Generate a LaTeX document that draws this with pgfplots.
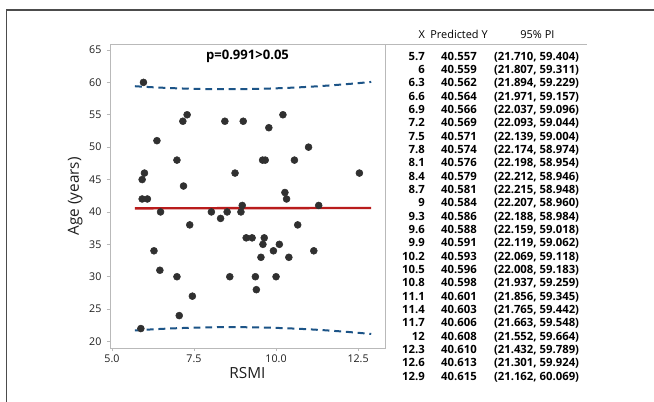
\documentclass[border=0pt]{standalone}
\usepackage{fontspec}
\setmainfont{Open Sans}
\usepackage{pgfplots}
\usepackage{pgfplotstable}
\pgfplotsset{compat=1.18}
\definecolor{fitred}{RGB}{185,28,28}
\definecolor{piblue}{RGB}{28,84,135}
\definecolor{dotgray}{RGB}{48,48,48}
\definecolor{boxgray}{RGB}{185,185,185}
\definecolor{txt}{RGB}{30,30,30}

\pgfplotstableread{
x yhat lo hi
5.7 40.557 21.710 59.404
6 40.559 21.807 59.311
6.3 40.562 21.894 59.229
6.6 40.564 21.971 59.157
6.9 40.566 22.037 59.096
7.2 40.569 22.093 59.044
7.5 40.571 22.139 59.004
7.8 40.574 22.174 58.974
8.1 40.576 22.198 58.954
8.4 40.579 22.212 58.946
8.7 40.581 22.215 58.948
9 40.584 22.207 58.960
9.3 40.586 22.188 58.984
9.6 40.588 22.159 59.018
9.9 40.591 22.119 59.062
10.2 40.593 22.069 59.118
10.5 40.596 22.008 59.183
10.8 40.598 21.937 59.259
11.1 40.601 21.856 59.345
11.4 40.603 21.765 59.442
11.7 40.606 21.663 59.548
12 40.608 21.552 59.664
12.3 40.610 21.432 59.789
12.6 40.613 21.301 59.924
12.9 40.615 21.162 60.069
}\fittable

\pgfplotstableread{
x y
5.96 60
5.92 45
5.99 46
5.92 42
6.08 42
5.88 22
6.28 34
6.37 51
6.48 40
6.46 31
6.98 48
6.98 30
7.05 24
7.16 54
7.18 44
7.29 55
7.37 38
7.45 27
8.03 40
8.31 39
8.44 54
8.51 40
8.59 30
8.75 46
8.93 40
8.97 41
9.00 54
9.09 36
9.27 36
9.37 30
9.40 28
9.54 33
9.60 35
9.59 48
9.67 48
9.64 36
9.78 53
9.92 34
10.00 30
10.10 35
10.21 55
10.27 43
10.32 42
10.39 33
10.56 48
10.66 38
10.99 50
11.15 34
11.30 41
12.54 46
}\pointtable

\begin{document}
\begin{tikzpicture}[font=\color{txt}]
\useasboundingbox (0,0) rectangle (490.5pt,301.5pt);
\fill[white] (0,0) rectangle (490.5pt,301.5pt);
% outer frame (top and left)
\draw[color=black!70, line width=0.8pt] (5pt,0) -- (5pt,294pt) -- (490.5pt,294pt);
% line continuing the top of the data region
\draw[color=boxgray, line width=0.6pt] (288.75pt,267.98pt) -- (440.25pt,267.98pt);

\begin{axis}[
  at={(82.5pt,40.5pt)}, anchor=south west,
  scale only axis, width=206.25pt, height=227.5pt,
  xmin=4.94, xmax=13.32, ymin=19.0, ymax=65.82,
  xtick={5,7.5,10,12.5},
  xticklabels={5.0,7.5,10.0,12.5},
  ytick={20,25,30,35,40,45,50,55,60,65},
  axis line style={boxgray, line width=0.6pt},
  tick style={boxgray, line width=0.5pt},
  major tick length=2.4pt,
  tick align=outside,
  xtick pos=bottom, ytick pos=left,
  /pgf/number format/assume math mode=true,
  ticklabel style={font=\fontsize{8}{9}\selectfont, text=txt},
  xticklabel style={yshift=0.5pt},
  yticklabel style={xshift=-0.5pt},
  xlabel={RSMI}, ylabel={Age (years)},
  label style={font=\fontsize{11.5}{13}\selectfont, text=txt},
  xlabel style={at={(axis description cs:0.5,0)}, anchor=north, yshift=-11pt},
  ylabel style={at={(axis description cs:0,0.5)}, anchor=south, yshift=17pt},
  clip=false,
]
\addplot[piblue, line width=1.5pt, dash pattern=on 5.2pt off 3.6pt] table[x=x,y=hi] {\fittable};
\addplot[piblue, line width=1.5pt, dash pattern=on 5.2pt off 3.6pt] table[x=x,y=lo] {\fittable};
\addplot[fitred, line width=1.8pt] table[x=x,y=yhat] {\fittable};
\addplot[only marks, mark=*, mark size=2.6pt, mark options={fill=dotgray, draw=dotgray}] table[x=x,y=y] {\pointtable};
\node[font=\fontsize{9.8}{11}\selectfont\bfseries, text=black] at (rel axis cs:0.5,0.96) {p=0.991>0.05};
\end{axis}

% prediction table
\node[anchor=base, font=\fontsize{8.2}{9}\selectfont] at (316.3pt,272.6pt) {X};
\node[anchor=base, font=\fontsize{8.2}{9}\selectfont] at (344.25pt,272.6pt) {Predicted Y};
\node[anchor=base, font=\fontsize{8.2}{9}\selectfont] at (403.1pt,272.6pt) {95\% PI};
\foreach \a/\b/\c/\d [count=\i from 0] in {
5.7/40.557/21.710/59.404,
6/40.559/21.807/59.311,
6.3/40.562/21.894/59.229,
6.6/40.564/21.971/59.157,
6.9/40.566/22.037/59.096,
7.2/40.569/22.093/59.044,
7.5/40.571/22.139/59.004,
7.8/40.574/22.174/58.974,
8.1/40.576/22.198/58.954,
8.4/40.579/22.212/58.946,
8.7/40.581/22.215/58.948,
9/40.584/22.207/58.960,
9.3/40.586/22.188/58.984,
9.6/40.588/22.159/59.018,
9.9/40.591/22.119/59.062,
10.2/40.593/22.069/59.118,
10.5/40.596/22.008/59.183,
10.8/40.598/21.937/59.259,
11.1/40.601/21.856/59.345,
11.4/40.603/21.765/59.442,
11.7/40.606/21.663/59.548,
12/40.608/21.552/59.664,
12.3/40.610/21.432/59.789,
12.6/40.613/21.301/59.924,
12.9/40.615/21.162/60.069} {
  \pgfmathsetmacro{\yy}{256.3-10.0*\i}
  \node[anchor=base east, inner sep=0pt, font=\fontsize{8.5}{9}\selectfont\bfseries] at (318.75pt,\yy pt) {\a};
  \node[anchor=base, inner sep=0pt, font=\fontsize{8.5}{9}\selectfont\bfseries] at (344.25pt,\yy pt) {\b};
  \node[anchor=base, inner sep=0pt, font=\fontsize{8.5}{9}\selectfont\bfseries] at (402.4pt,\yy pt) {(\c, \d)};
}
\end{tikzpicture}
\end{document}
